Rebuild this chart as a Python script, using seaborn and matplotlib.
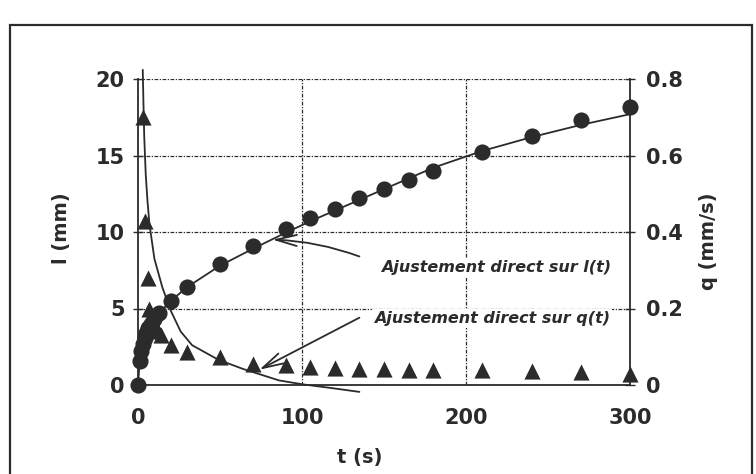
import matplotlib
matplotlib.use("Agg")
import matplotlib.pyplot as plt
import seaborn as sns
import pandas as pd
from matplotlib.patches import Rectangle

# ---- data ----
t_l = [0, 1, 2, 3, 4, 5, 6, 8, 10, 13, 20, 30, 50, 70, 90, 105, 120, 135, 150, 165, 180, 210, 240, 270, 300]
l_mm = [0, 1.6, 2.2, 2.7, 3.1, 3.4, 3.7, 4.0, 4.3, 4.7, 5.5, 6.4, 7.9, 9.1, 10.2, 10.9, 11.5, 12.2, 12.8,
        13.4, 14.0, 15.2, 16.3, 17.3, 18.2]

t_q = [3, 4.5, 6, 7, 8, 9, 10, 12, 14, 20, 30, 50, 70, 90, 105, 120, 135, 150, 165, 180, 210, 240, 270, 300]
q_mms = [0.70, 0.43, 0.28, 0.20, 0.18, 0.165, 0.15, 0.14, 0.13, 0.105, 0.085, 0.072, 0.056, 0.052, 0.046,
         0.044, 0.043, 0.041, 0.040, 0.039, 0.038, 0.036, 0.033, 0.029]

t_lfit = [0, 1, 2, 4, 7, 12, 20, 30, 50, 70, 90, 105, 120, 135, 150, 165, 180, 210, 240, 270, 300]
l_fit = [0, 1.5, 2.2, 3.0, 3.8, 4.6, 5.5, 6.4, 7.8, 8.9, 9.95, 10.7, 11.4, 12.1, 12.8, 13.5, 14.2, 15.3,
         16.2, 17.0, 17.7]

t_qfit = [2.9, 3.3, 3.8, 4.7, 5.8, 7, 10, 14.8, 20, 26, 33, 49, 64, 86, 100, 118, 135]
q_fit = [0.824, 0.74, 0.65, 0.552, 0.48, 0.42, 0.33, 0.256, 0.194, 0.14, 0.104, 0.066, 0.042, 0.012, 0.002,
         -0.008, -0.018]

t_ticks = [0, 100, 200, 300]
l_ticks = [0, 5, 10, 15, 20]
q_ticks = [0, 0.2, 0.4, 0.6, 0.8]
q_ticklabels = ["0", "0.2", "0.4", "0.6", "0.8"]

label_l = "l (mm)"
label_q = "q (mm/s)"
label_t = "t (s)"
note_l = "Ajustement direct sur l(t)"
note_q = "Ajustement direct sur q(t)"

# ---- style ----
sns.set_style("white")
plt.rcParams["font.family"] = ["DejaVu Sans"]
plt.rcParams["font.weight"] = "bold"
ink = "#2b2b2b"

df_l = pd.DataFrame({"t": t_l, "l": l_mm})
df_q = pd.DataFrame({"t": t_q, "q": q_mms})
df_lf = pd.DataFrame({"t": t_lfit, "l": l_fit})
df_qf = pd.DataFrame({"t": t_qfit, "q": q_fit})

fig = plt.figure(figsize=(7.56, 4.74), dpi=100)
ax = fig.add_axes([138 / 756, (474 - 385) / 474, (630 - 138) / 756, (385 - 79) / 474])
ax2 = ax.twinx()

# grid (dash-dot fine)
grid_ls = (0, (3, 1.2, 1, 1.2))
for yv in l_ticks[1:]:
    ax.axhline(yv, color=ink, lw=0.9, ls=grid_ls, zorder=0.5)
for xv in t_ticks[1:3]:
    ax.axvline(xv, color=ink, lw=0.9, ls=grid_ls, zorder=0.5)

# fits
sns.lineplot(data=df_lf, x="t", y="l", ax=ax, sort=False, estimator=None, color=ink, lw=1.3, zorder=2)
sns.lineplot(data=df_qf, x="t", y="q", ax=ax2, sort=False, estimator=None, color=ink, lw=1.3,
             zorder=2, clip_on=False)

# measured points
sns.scatterplot(data=df_l, x="t", y="l", ax=ax, marker="o", s=135, color=ink, linewidth=0,
                zorder=3, clip_on=False)
sns.scatterplot(data=df_q, x="t", y="q", ax=ax2, marker="^", s=135, color=ink, linewidth=0,
                zorder=3, clip_on=False)

ax.set_xlim(0, 300)
ax.set_ylim(0, 20)
ax2.set_ylim(0, 0.8)
ax.set_xticks(t_ticks)
ax.set_yticks(l_ticks)
ax2.set_yticks(q_ticks)
ax2.set_yticklabels(q_ticklabels)
ax.set_xlabel("")
ax.set_ylabel("")
ax2.set_ylabel("")

for a in (ax, ax2):
    for s in a.spines.values():
        s.set_visible(False)
        s.set_color(ink)
        s.set_linewidth(1.3)
ax.spines["left"].set_visible(True)
ax.spines["bottom"].set_visible(True)
ax2.spines["right"].set_visible(True)

ax.tick_params(axis="x", direction="inout", length=7, width=1, colors=ink, labelsize=15, pad=13)
ax.tick_params(axis="y", direction="inout", length=7, width=1, colors=ink, labelsize=15, pad=6)
ax2.tick_params(axis="y", direction="inout", length=7, width=1, colors=ink, labelsize=15, pad=8)
for lab in ax.get_xticklabels() + ax.get_yticklabels() + ax2.get_yticklabels():
    lab.set_fontweight("bold")

# axis titles
fig.text(61 / 756, 1 - 228 / 474, label_l, rotation=90, ha="center", va="center",
         fontsize=14, fontweight="bold", color=ink)
fig.text(708 / 756, 1 - 241 / 474, label_q, rotation=90, ha="center", va="center",
         fontsize=14, fontweight="bold", color=ink)
fig.text(360 / 756, 1 - 458 / 474, label_t, ha="center", va="center",
         fontsize=14, fontweight="bold", color=ink)

# annotations (drawn on the top axes so the heads sit above the markers)
arrow_kw = dict(arrowstyle="->,head_length=1.5,head_width=0.4", color=ink, lw=1.3,
                shrinkA=0, shrinkB=0)
ax2.annotate("", xy=(82, 9.5 / 25), xytext=(135, 8.4 / 25),
             arrowprops=dict(connectionstyle="arc3,rad=0.08", **arrow_kw), zorder=6)
ax2.annotate("", xy=(74, 1.0 / 25), xytext=(135, 4.4 / 25),
             arrowprops=dict(connectionstyle="arc3,rad=0", **arrow_kw), zorder=6)
ax.text(148, 7.65, note_l, ha="left", va="center", fontsize=11.5, fontweight="bold",
        fontstyle="italic", color=ink, zorder=4,
        bbox=dict(fc="white", ec="none", pad=1.5))
ax.text(144, 4.35, note_q, ha="left", va="center", fontsize=11.5, fontweight="bold",
        fontstyle="italic", color=ink, zorder=4,
        bbox=dict(fc="white", ec="none", pad=1.5))

# frame around the figure
fig.add_artist(Rectangle((10 / 756, -0.05), (752 - 10) / 756, (474 - 25) / 474 + 0.05,
                         transform=fig.transFigure, fill=False, ec=ink, lw=1.6))

fig.savefig("out.png", dpi=100)
